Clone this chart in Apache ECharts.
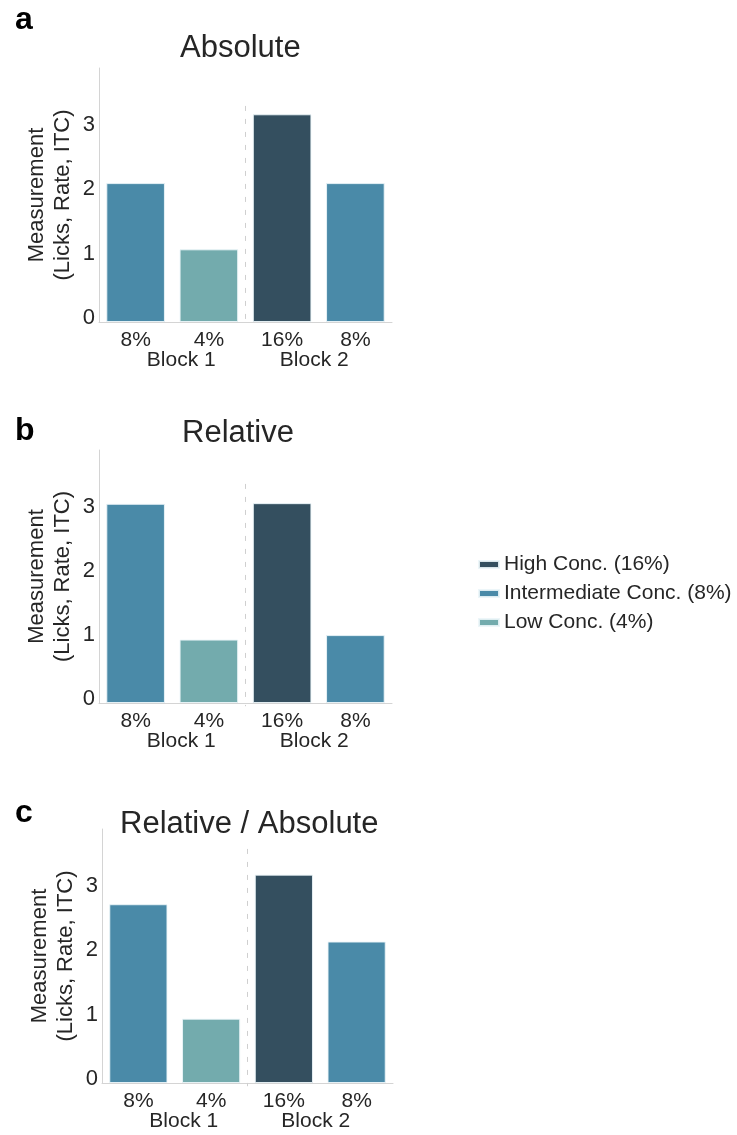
<!DOCTYPE html>
<html>
<head>
<meta charset="utf-8">
<script src="https://cdn.jsdelivr.net/npm/echarts@6/dist/echarts.min.js"></script>
<style>html,body{margin:0;padding:0;background:#fff}#chart{width:737px;height:1135px}</style>
</head>
<body>
<div id="chart"></div>
<script>
// ---- data ----
const concLabels = ['8%', '4%', '16%', '8%'];
const blockLabels = ['Block 1', 'Block 2'];
const panelTitles = ['Absolute', 'Relative', 'Relative / Absolute'];
const panelLetters = ['a', 'b', 'c'];
const seriesNames = ['High Conc. (16%)', 'Intermediate Conc. (8%)', 'Low Conc. (4%)'];
// concentration level of each bar: 0 high, 1 intermediate, 2 low
const barLevel = [1, 2, 0, 1];
const absoluteValues = [2.16, 1.13, 3.23, 2.16];
const relativeValues = [3.11, 0.99, 3.12, 1.06];
const ratioValues = [2.78, 1.00, 3.24, 2.20];
const yTicks = [0, 1, 2, 3];
// divider between blocks, on a 0..4 scale spanning the four category bands
const dividerPos = 2;
const dividerTop = [3.36, 3.42, 3.64];
const dividerBottom = -0.05;

// ---- styling / layout ----
const FONT = '"Liberation Sans", Arial, sans-serif';
const TXT = '#262626';
const colors = ['#344f5f', '#4a8aa8', '#73abad'];
const grids = [
  {left: 99, top: 68, width: 293, height: 254},
  {left: 99, top: 450, width: 293, height: 253},
  {left: 102, top: 829, width: 291, height: 254}
];
const panelData = [absoluteValues, relativeValues, ratioValues];
const titleLeft = [180, 182, 120];
const titleTop = [33, 418, 809];
const letterTop = [4, 415, 797];

const xAxes = [], yAxes = [], series = [], titles = [];
grids.forEach((g, p) => {
  xAxes.push({
    type: 'category', gridIndex: p, data: concLabels, position: 'bottom',
    axisLine: {show: true, lineStyle: {color: '#d4d4d4', width: 1}},
    axisTick: {show: false}, splitLine: {show: false},
    axisLabel: {color: TXT, fontSize: 21, fontFamily: FONT, margin: 8, interval: 0}
  });
  yAxes.push({
    type: 'value', gridIndex: p, min: 0, max: 3.95, interval: 1,
    axisLine: {show: true, lineStyle: {color: '#d4d4d4', width: 1}},
    axisTick: {show: false}, splitLine: {show: false},
    axisLabel: {color: TXT, fontSize: 22, fontFamily: FONT, margin: 4,
      verticalAlign: 'bottom', lineHeight: 8,
      showMaxLabel: false,
      formatter: v => (yTicks.indexOf(v) >= 0 ? String(v) : '')},
    name: 'Measurement\n(Licks, Rate, ITC)', nameLocation: 'middle', nameRotate: 90, nameGap: 23,
    nameTextStyle: {color: TXT, fontSize: 22, fontFamily: FONT, lineHeight: 26}
  });
  titles.push({text: panelLetters[p], left: 15, top: letterTop[p], padding: 0,
    textStyle: {fontSize: 32, fontWeight: 'bold', color: '#000', fontFamily: FONT}});
  titles.push({text: panelTitles[p], left: titleLeft[p], top: titleTop[p], padding: 0,
    textStyle: {fontSize: 31, fontWeight: 'normal', color: TXT, fontFamily: FONT}});
  seriesNames.forEach((name, lvl) => {
    series.push({
      type: 'bar', name: name, xAxisIndex: p, yAxisIndex: p,
      barWidth: '80%', barGap: '-100%',
      itemStyle: {color: colors[lvl], borderColor: 'rgba(235,245,248,0.9)', borderWidth: 1},
      emphasis: {disabled: true},
      data: panelData[p].map((v, i) => (barLevel[i] === lvl ? v : '-'))
    });
  });
});
// block label axes (indices 3..5)
grids.forEach((g, p) => {
  xAxes.push({
    type: 'category', gridIndex: p, data: blockLabels, position: 'bottom',
    axisLine: {show: false}, axisTick: {show: false}, splitLine: {show: false},
    axisLabel: {color: TXT, fontSize: 21, fontFamily: FONT, margin: 28, interval: 0,
      formatter: (v, i) => (i === 0 ? '{l|' + v + '}' : '{r|' + v + '}'),
      rich: {
        l: {color: TXT, fontSize: 21, fontFamily: FONT, padding: [0, 0, 0, 18]},
        r: {color: TXT, fontSize: 21, fontFamily: FONT, padding: [0, 9, 0, 0]}
      }}
  });
});
// hidden value x axes for the divider (indices 6..8)
grids.forEach((g, p) => {
  xAxes.push({
    type: 'value', gridIndex: p, min: 0, max: concLabels.length, show: false,
    splitLine: {show: false}
  });
  series.push({
    type: 'line', xAxisIndex: 6 + p, yAxisIndex: p, silent: true, clip: false,
    symbol: 'none', legendHoverLink: false,
    lineStyle: {color: '#cfcfcf', type: [5, 8], width: 1},
    data: [[dividerPos, dividerTop[p]], [dividerPos, dividerBottom]]
  });
});

const chart = echarts.init(document.getElementById('chart'), null, {renderer: 'canvas'});
chart.setOption({
  animation: false,
  backgroundColor: '#ffffff',
  title: titles,
  grid: grids,
  xAxis: xAxes,
  yAxis: yAxes,
  legend: {
    data: seriesNames, orient: 'vertical', left: 478, top: 554, padding: 0,
    itemWidth: 20, itemHeight: 7, itemGap: 8,
    icon: 'rect',
    textStyle: {color: TXT, fontSize: 21, fontFamily: FONT}
  },
  series: series
});
</script>
</body>
</html>
